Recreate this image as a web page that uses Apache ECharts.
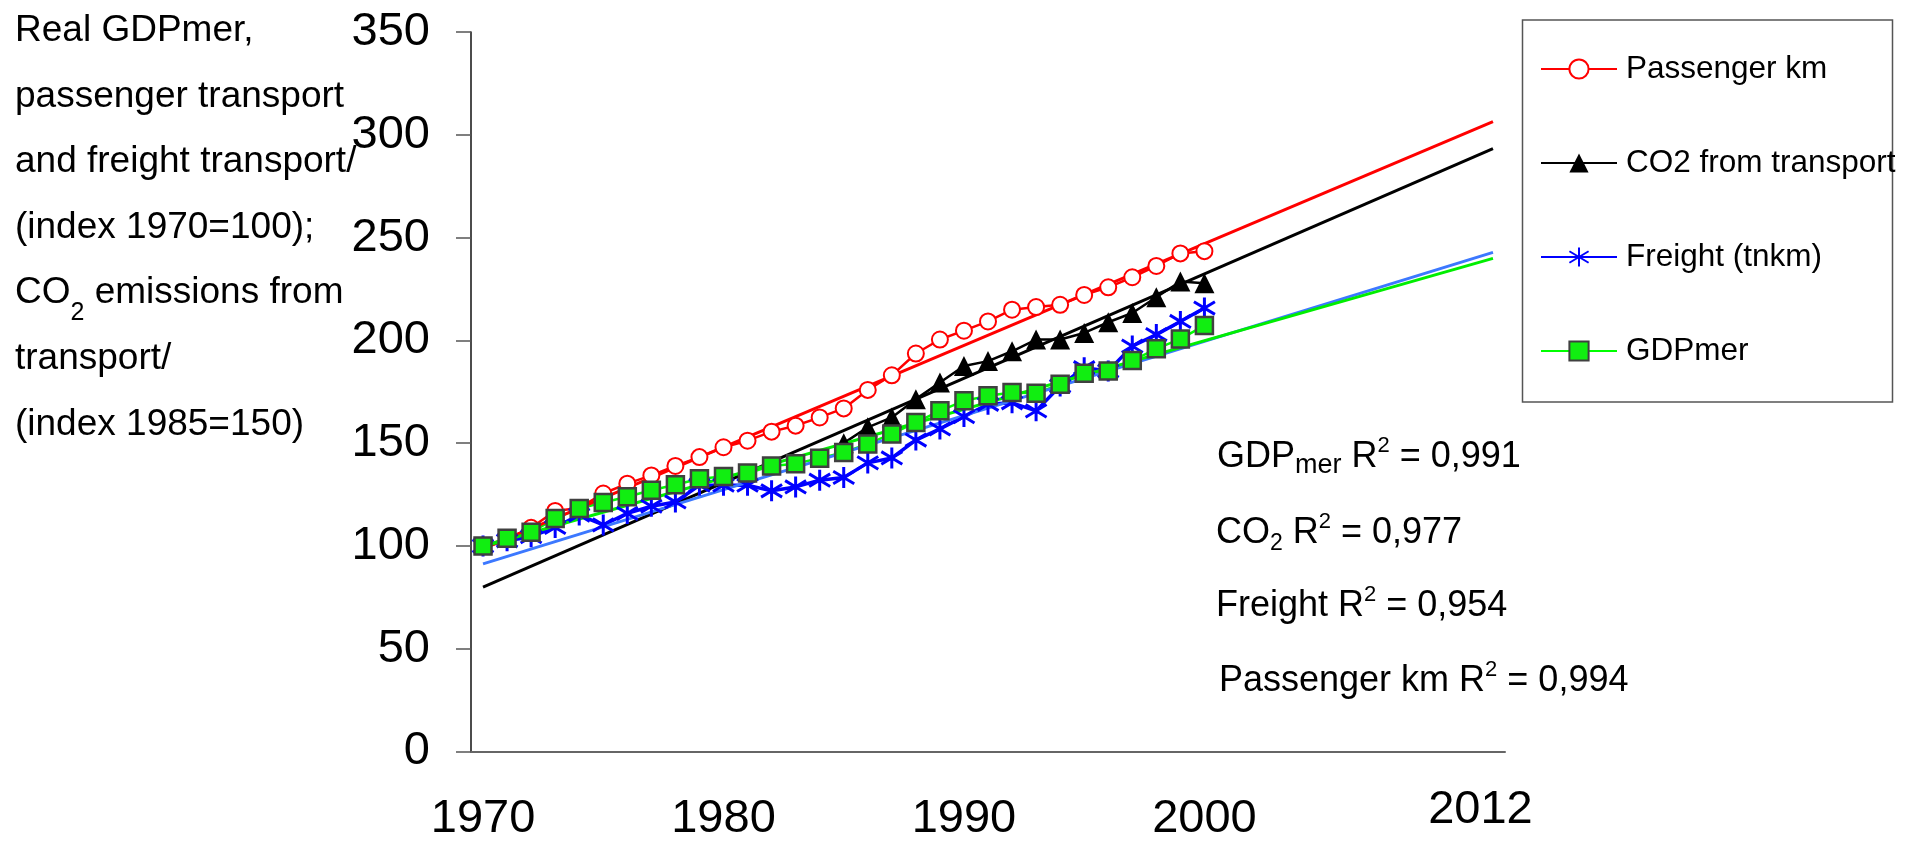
<!DOCTYPE html>
<html>
<head>
<meta charset="utf-8">
<script src="https://cdn.jsdelivr.net/npm/echarts@6/dist/echarts.min.js"></script>
<style>
  html, body { margin: 0; padding: 0; background: #fff; }
  #chart { width: 1913px; height: 843px; }
</style>
</head>
<body>
<div id="chart"></div>
<script>
// categories on the x axis (one per year, Excel style: points sit between the ticks)
var axisYears = ['1970','1971','1972','1973','1974','1975','1976','1977','1978','1979',
                 '1980','1981','1982','1983','1984','1985','1986','1987','1988','1989',
                 '1990','1991','1992','1993','1994','1995','1996','1997','1998','1999',
                 '2000','2001','2002','2003','2004','2005','2006','2007','2008','2009',
                 '2010','2011','2012'];
var shownYears = ['1970', '1980', '1990', '2000', '2012'];
var yTicks = [0, 50, 100, 150, 200, 250, 300, 350];

// observed series
var dataYears = ['1970','1971','1972','1973','1974','1975','1976','1977','1978','1979',
                 '1980','1981','1982','1983','1984','1985','1986','1987','1988','1989',
                 '1990','1991','1992','1993','1994','1995','1996','1997','1998','1999','2000'];
var passengerKm = [100, 103.5, 108.8, 117, 118.5, 125.5, 130.3, 134.3, 138.9, 143.2,
                   148, 151.2, 155.6, 158.5, 162.5, 166.9, 175.9, 183, 193.6, 200.4,
                   204.7, 209.2, 214.9, 216.2, 217.3, 222.1, 225.8, 230.7, 236.2, 242.3, 243.4];
var freight = [100, 102.5, 104.5, 109, 115, 110.2, 115.8, 119.3, 121.4, 129.5,
               129.5, 129.5, 126.8, 128.7, 132, 133.3, 140.4, 142.8, 151.5, 156.9,
               162.9, 168.9, 169.6, 165.7, 177.8, 186.7, 185.1, 197.2, 202.8, 209.2, 215.7];
var gdpMer = [100, 103.7, 106.6, 113.4, 118.2, 121.1, 123.9, 127.1, 129.8, 132.7,
              133.8, 135.5, 138.9, 140, 142.7, 145.5, 149.6, 154.5, 160.1, 165.7,
              170.6, 173, 174.6, 174.3, 178.6, 184, 185.1, 190.2, 195.9, 200.7, 207.2];
var co2Years = ['1985','1986','1987','1988','1989','1990','1991','1992',
                '1993','1994','1995','1996','1997','1998','1999','2000'];
var co2Transport = [150, 157.7, 162.5, 171.4, 179.5, 187.5, 189.9, 194.7,
                    200.4, 200.4, 203.6, 208.8, 213.3, 221, 228.6, 227.8];

// linear trend lines, 1970 -> 2012
var trendYears = ['1970', '2012'];
var passengerTrend = [98.6, 306.4];
var co2Trend = [79.9, 293.3];
var freightTrend = [91.3, 242.8];
var gdpTrend = [99.7, 239.9];

var FONT = "'Liberation Sans', Arial, sans-serif";
var starPath = 'path://M0,-10L0,10M-8.5,-6L8.5,6M-8.5,6L8.5,-6';

function pairs(xs, ys) {
    return xs.map(function(x, i) { return [x, ys[i]]; });
}

function trend(name, color, values) {
    return {
        name: name,
        type: 'line',
        data: pairs(trendYears, values),
        symbol: 'none',
        silent: true,
        lineStyle: { color: color, width: 3 },
        z: 3
    };
}

function r2Style(text) {
    return {
        text: text, fontFamily: FONT, fontSize: 36, lineHeight: 44, fill: '#000',
        verticalAlign: 'middle',
        rich: {
            sup: { fontSize: 22, lineHeight: 22, verticalAlign: 'top' },
            sub: { fontSize: 27, lineHeight: 23, verticalAlign: 'bottom' },
            sub2: { fontSize: 23, lineHeight: 20, verticalAlign: 'bottom' }
        }
    };
}

var option = {
    animation: false,
    backgroundColor: '#fff',
    textStyle: { fontFamily: FONT },
    grid: { left: 471, right: 408, top: 32, bottom: 89 },
    legend: {
        data: ['Passenger km', 'CO2 from transport', 'Freight (tnkm)', 'GDPmer'],
        orient: 'vertical',
        left: 1540,
        top: 49,
        padding: 0,
        itemWidth: 76,
        itemHeight: 24,
        itemGap: 54,
        selectedMode: false,
        textStyle: { fontFamily: FONT, fontSize: 31.5, color: '#000', lineHeight: 40, padding: [0, 0, 0, 4] }
    },
    xAxis: {
        type: 'category',
        data: axisYears,
        boundaryGap: true,
        axisLine: { lineStyle: { color: '#666', width: 2 } },
        axisTick: { interval: 4, length: 15, lineStyle: { color: '#444', width: 1.5 } },
        axisLabel: {
            interval: function(index, value) { return shownYears.indexOf(value) >= 0; },
            margin: 43,
            fontSize: 47,
            color: '#000',
            formatter: function(value) {
                return value === '2012' ? '{e|' + value + '}' : '{n|' + value + '}';
            },
            rich: {
                n: { fontSize: 47, lineHeight: 50 },
                e: { fontSize: 47, lineHeight: 31, padding: [0, 25, 0, 0] }
            }
        },
        splitLine: { show: false }
    },
    yAxis: {
        type: 'value',
        min: yTicks[0],
        max: yTicks[yTicks.length - 1],
        interval: 50,
        axisLine: { show: true, lineStyle: { color: '#111', width: 1.5 } },
        axisTick: { show: true, length: 15, lineStyle: { color: '#555', width: 1.5 } },
        axisLabel: { fontSize: 47, color: '#000', margin: 41 },
        splitLine: { show: false }
    },
    graphic: [
        {
            type: 'text', left: 15, top: -2,
            style: {
                text: 'Real GDPmer,\npassenger transport\nand freight transport/\n(index 1970=100);\nCO{sub|2} emissions from\ntransport/\n(index 1985=150)',
                fontFamily: FONT, fontSize: 37, lineHeight: 65.6, fill: '#000',
                rich: { sub: { fontSize: 25, lineHeight: 37, verticalAlign: 'bottom' } }
            }
        },
        {
            type: 'rect',
            shape: { x: 1522.5, y: 20, width: 370, height: 382 },
            style: { fill: 'none', stroke: '#555', lineWidth: 1.5 }
        },
        { type: 'text', x: 1217, y: 457, style: r2Style('GDP{sub|mer} R{sup|2} = 0,991') },
        { type: 'text', x: 1216, y: 533, style: r2Style('CO{sub2|2} R{sup|2} = 0,977') },
        { type: 'text', x: 1216, y: 606, style: r2Style('Freight R{sup|2} = 0,954') },
        { type: 'text', x: 1219, y: 681, style: r2Style('Passenger km R{sup|2} = 0,994') }
    ],
    series: [
        {
            name: 'Passenger km', type: 'line', data: pairs(dataYears, passengerKm),
            symbol: 'emptyCircle', symbolSize: 16, showAllSymbol: true,
            lineStyle: { color: '#ff0000', width: 2.5 },
            itemStyle: { color: '#ff0000', borderWidth: 2.5 }
        },
        {
            name: 'CO2 from transport', type: 'line', data: pairs(co2Years, co2Transport),
            symbol: 'triangle', symbolSize: 20, showAllSymbol: true,
            lineStyle: { color: '#000', width: 2.5 },
            itemStyle: { color: '#000' }
        },
        {
            name: 'Freight (tnkm)', type: 'line', data: pairs(dataYears, freight),
            symbol: starPath, symbolSize: 21, showAllSymbol: true,
            lineStyle: { color: '#0000ff', width: 3.5 },
            itemStyle: { color: '#0000ff', borderColor: '#0000ff', borderWidth: 3 }
        },
        {
            name: 'GDPmer', type: 'line', data: pairs(dataYears, gdpMer),
            symbol: 'rect', symbolSize: 17, showAllSymbol: true,
            lineStyle: { color: '#00ff00', width: 2.5 },
            itemStyle: { color: '#11ee11', borderColor: '#404040', borderWidth: 2.5 }
        },
        trend('Passenger trend', '#ff0000', passengerTrend),
        trend('CO2 trend', '#000000', co2Trend),
        trend('Freight trend', '#3c78ff', freightTrend),
        trend('GDP trend', '#00ee00', gdpTrend)
    ]
};

var myChart = echarts.init(document.getElementById('chart'));
myChart.setOption(option);
</script>
</body>
</html>
